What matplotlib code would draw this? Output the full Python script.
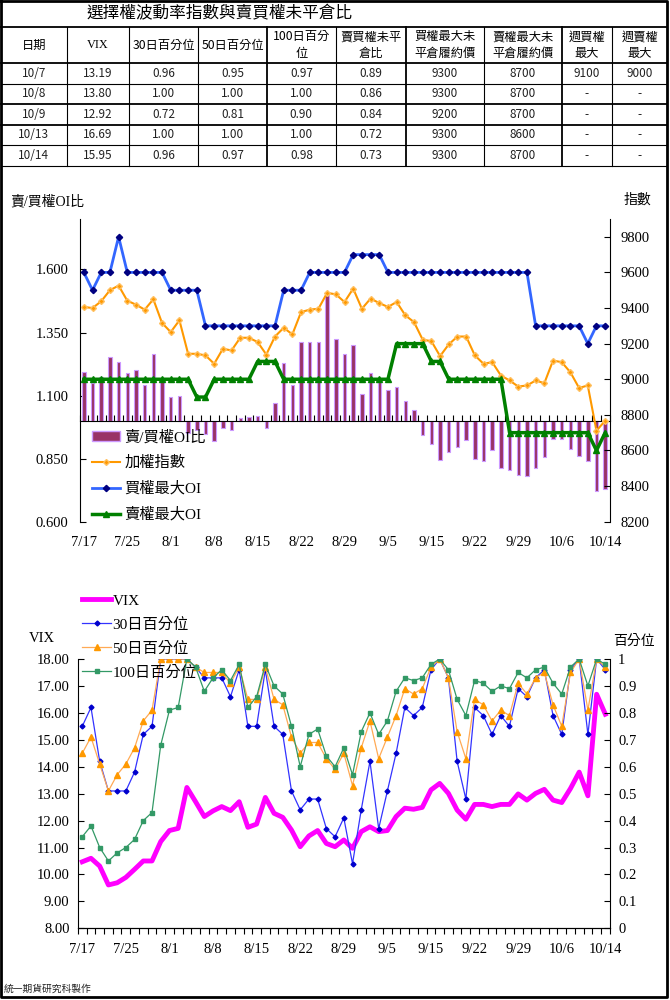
import numpy as np
import matplotlib
matplotlib.use('Agg')
import matplotlib.pyplot as plt
from matplotlib.lines import Line2D
from matplotlib.patches import Patch
from matplotlib.font_manager import FontProperties

CJK = 'Noto Sans CJK TC'
SERIF = ['Liberation Serif', CJK]
plt.rcParams['font.family'] = [CJK, 'DejaVu Sans']

# ---- data ----
dates = ['7/17', '7/18', '7/21', '7/22', '7/24', '7/25', '7/28', '7/29', '7/30', '7/31',
         '8/1', '8/4', '8/5', '8/6', '8/7', '8/8', '8/11', '8/12', '8/13', '8/14',
         '8/15', '8/18', '8/19', '8/20', '8/21', '8/22', '8/25', '8/26', '8/27', '8/28',
         '8/29', '9/1', '9/2', '9/3', '9/4', '9/5', '9/9', '9/10', '9/11', '9/12',
         '9/15', '9/16', '9/17', '9/18', '9/19', '9/22', '9/23', '9/24', '9/25', '9/26',
         '9/29', '9/30', '10/1', '10/2', '10/3', '10/6', '10/7', '10/8', '10/9', '10/13',
         '10/14']

# put/call OI ratio (bars, left axis)
pc_ratio = [1.194, 1.148, 1.174, 1.251, 1.233, 1.188, 1.201, 1.142, 1.263, 1.168,
            1.093, 1.099, 0.950, 0.963, 0.947, 0.920, 0.970, 0.963, 1.010, 1.014,
            1.019, 0.970, 1.069, 1.228, 1.142, 1.313, 1.313, 1.313, 1.498, 1.325,
            1.264, 1.300, 1.105, 1.190, 1.155, 1.122, 1.135, 1.078, 1.042, 0.943,
            0.908, 0.844, 0.877, 0.895, 0.924, 0.847, 0.840, 0.884, 0.811, 0.805,
            0.785, 0.781, 0.811, 0.858, 0.926, 0.926, 0.89, 0.86, 0.84, 0.72,
            0.73]
taiex = [9406, 9400, 9438, 9500, 9526, 9441, 9419, 9391, 9449, 9316,
         9265, 9331, 9143, 9143, 9134, 9087, 9171, 9162, 9233, 9233,
         9209, 9139, 9240, 9289, 9252, 9377, 9391, 9396, 9485, 9477,
         9434, 9509, 9396, 9453, 9428, 9406, 9434, 9359, 9321, 9222,
         9214, 9130, 9196, 9240, 9240, 9134, 9087, 9096, 9021, 8993,
         8959, 8965, 8993, 8978, 9105, 9096, 9039, 8951, 8965, 8711,
         8767]
call_max_oi = [9600, 9500, 9600, 9600, 9800, 9600, 9600, 9600, 9600, 9600,
               9500, 9500, 9500, 9500, 9300, 9300, 9300, 9300, 9300, 9300,
               9300, 9300, 9300, 9500, 9500, 9500, 9600, 9600, 9600, 9600,
               9600, 9700, 9700, 9700, 9700, 9600, 9600, 9600, 9600, 9600,
               9600, 9600, 9600, 9600, 9600, 9600, 9600, 9600, 9600, 9600,
               9600, 9600, 9300, 9300, 9300, 9300, 9300, 9300, 9200, 9300,
               9300]
put_max_oi = [9000, 9000, 9000, 9000, 9000, 9000, 9000, 9000, 9000, 9000,
              9000, 9000, 9000, 8900, 8900, 9000, 9000, 9000, 9000, 9000,
              9100, 9100, 9100, 9000, 9000, 9000, 9000, 9000, 9000, 9000,
              9000, 9000, 9000, 9000, 9000, 9000, 9200, 9200, 9200, 9200,
              9100, 9100, 9000, 9000, 9000, 9000, 9000, 9000, 9000, 8700,
              8700, 8700, 8700, 8700, 8700, 8700, 8700, 8700, 8700, 8600,
              8700]

vix = [10.47, 10.60, 10.31, 9.61, 9.69, 9.89, 10.19, 10.50, 10.50, 11.22,
       11.63, 11.71, 13.23, 12.70, 12.15, 12.36, 12.52, 12.37, 12.70, 11.75,
       11.87, 12.86, 12.27, 12.12, 11.65, 11.03, 11.43, 11.63, 11.15, 11.03,
       11.28, 10.97, 11.59, 11.77, 11.59, 11.63, 12.15, 12.46, 12.42, 12.49,
       13.14, 13.38, 13.01, 12.39, 12.05, 12.60, 12.60, 12.52, 12.60, 12.60,
       12.99, 12.76, 13.01, 13.16, 12.76, 12.67, 13.19, 13.80, 12.92, 16.69,
       15.95]
pct30 = [0.75, 0.82, 0.62, 0.51, 0.51, 0.51, 0.58, 0.72, 0.75, 1.00,
         1.00, 1.00, 1.00, 0.97, 0.93, 0.93, 0.93, 0.86, 0.96, 0.75,
         0.75, 0.96, 0.75, 0.72, 0.51, 0.44, 0.48, 0.48, 0.37, 0.34,
         0.41, 0.24, 0.44, 0.62, 0.37, 0.51, 0.65, 0.82, 0.79, 0.82,
         0.96, 1.00, 0.93, 0.62, 0.48, 0.82, 0.79, 0.72, 0.79, 0.75,
         0.89, 0.86, 0.93, 0.96, 0.79, 0.72, 0.96, 1.00, 0.72, 1.00,
         0.96]
pct50 = [0.65, 0.71, 0.61, 0.51, 0.57, 0.61, 0.67, 0.77, 0.81, 1.00,
         1.00, 1.00, 1.00, 0.97, 0.95, 0.95, 0.95, 0.91, 0.97, 0.85,
         0.85, 0.97, 0.85, 0.83, 0.71, 0.65, 0.69, 0.69, 0.63, 0.59,
         0.65, 0.53, 0.67, 0.77, 0.63, 0.71, 0.79, 0.89, 0.87, 0.89,
         0.97, 1.00, 0.93, 0.73, 0.63, 0.85, 0.83, 0.77, 0.81, 0.79,
         0.91, 0.87, 0.93, 0.95, 0.83, 0.75, 0.95, 1.00, 0.81, 1.00,
         0.97]
pct100 = [0.34, 0.38, 0.30, 0.25, 0.28, 0.30, 0.33, 0.40, 0.43, 0.68,
          0.81, 0.82, 1.00, 0.97, 0.88, 0.93, 0.96, 0.92, 0.98, 0.82,
          0.86, 0.98, 0.90, 0.87, 0.75, 0.60, 0.72, 0.74, 0.64, 0.60,
          0.67, 0.57, 0.73, 0.80, 0.72, 0.77, 0.88, 0.93, 0.92, 0.93,
          0.98, 1.00, 0.96, 0.85, 0.79, 0.92, 0.91, 0.88, 0.90, 0.89,
          0.95, 0.93, 0.96, 0.97, 0.91, 0.87, 0.97, 1.00, 0.90, 1.00,
          0.98]

# summary table
tbl_header = ['日期', 'VIX', '30日百分位', '50日百分位', '100日百分\n位', '賣買權未平\n倉比',
              '買權最大未\n平倉履約價', '賣權最大未\n平倉履約價', '週買權\n最大', '週賣權\n最大']
tbl_dates = ['10/7', '10/8', '10/9', '10/13', '10/14']
tbl_vix = [13.19, 13.80, 12.92, 16.69, 15.95]
tbl_p30 = [0.96, 1.00, 0.72, 1.00, 0.96]
tbl_p50 = [0.95, 1.00, 0.81, 1.00, 0.97]
tbl_p100 = [0.97, 1.00, 0.90, 1.00, 0.98]
tbl_pcr = [0.89, 0.86, 0.84, 0.72, 0.73]
tbl_call = [9300, 9300, 9200, 9300, 9300]
tbl_put = [8700, 8700, 8700, 8600, 8700]
tbl_wcall = ['9100', '-', '-', '-', '-']
tbl_wput = ['9000', '-', '-', '-', '-']

x = np.arange(len(dates))
W, H = 670, 1000

fig = plt.figure(figsize=(6.7, 10), dpi=100)
bg = fig.add_axes([0, 0, 1, 1])
bg.set_xlim(0, W)
bg.set_ylim(H, 0)
bg.axis('off')

# outer frame
bg.plot([1, 667, 667, 1, 1], [0.5, 0.5, 997, 997, 0.5], color='black', lw=2)

# ---- table ----
col_edges = [1, 66.7, 129.3, 198.3, 266.7, 336, 405.7, 484.3, 561.7, 612.3, 667]
row_edges = [27, 63.3, 83.5, 104, 124.5, 145, 165.7]
for k, yy in enumerate(row_edges):
    bg.plot([1, 667], [yy, yy], color='black', lw=1.3 if k in (0, 1, 3, 4) else 0.8)
for k, xx in enumerate(col_edges[1:-1]):
    bg.plot([xx, xx], [27, 165.7], color='black', lw=1.3 if k in (3, 5, 7) else 0.8)

bg.text(220, 14, '選擇權波動率指數與賣買權未平倉比', fontsize=12, ha='center', va='center')
for c, lab in enumerate(tbl_header):
    cx = (col_edges[c] + col_edges[c + 1]) / 2
    bg.text(cx, 45, lab, fontsize=8.8, ha='center', va='center', linespacing=1.35,
            family=SERIF if lab == 'VIX' else CJK)
rows = list(zip(tbl_dates, ['%.2f' % v for v in tbl_vix], ['%.2f' % v for v in tbl_p30],
                ['%.2f' % v for v in tbl_p50], ['%.2f' % v for v in tbl_p100],
                ['%.2f' % v for v in tbl_pcr], [str(v) for v in tbl_call],
                [str(v) for v in tbl_put], tbl_wcall, tbl_wput))
for r, row in enumerate(rows):
    cy = (row_edges[r + 2] + row_edges[r + 1]) / 2
    for c, val in enumerate(row):
        cx = (col_edges[c] + col_edges[c + 1]) / 2
        bg.text(cx, cy, val, fontsize=8.5, ha='center', va='center', color='#222222')

# ---- top chart: put/call ratio & max OI ----
ax1 = fig.add_axes([79.5 / W, 1 - 521.7 / H, 530 / W, (521.7 - 219) / H])
ax1.set_facecolor('none')
ax1.bar(x, np.array(pc_ratio) - 1.0, bottom=1.0, width=0.4, color='#993366',
        edgecolor='#cc99ff', lw=0.8, zorder=2)
ax1.set_xlim(-0.5, len(dates) - 0.5)
ax1.set_ylim(0.6, 1.8)
ax1.set_yticks([0.6, 0.85, 1.1, 1.35, 1.6])
ax1.set_yticklabels(['%.3f' % v for v in [0.6, 0.85, 1.1, 1.35, 1.6]], family=SERIF, fontsize=10.5)
ax1.spines['top'].set_visible(False)
ax1.spines['right'].set_visible(False)
ax1.spines['bottom'].set_position(('data', 1.0))
ax1.set_xticks(np.arange(-0.5, len(dates), 1))
ax1.tick_params(axis='x', direction='in', length=4, labelbottom=False, width=0.8)
ax1.tick_params(axis='y', direction='in', length=4, pad=8)
for i in range(0, len(dates), 5):
    ax1.text(i, -0.07, dates[i], transform=ax1.get_xaxis_transform(), ha='center',
             va='center', family=SERIF, fontsize=10.5)

ax1b = ax1.twinx()
ax1b.set_ylim(8200, 9900)
ax1b.set_yticks(np.arange(8200, 9801, 200))
ax1b.set_yticklabels([str(v) for v in range(8200, 9801, 200)], family=SERIF, fontsize=10.5)
ax1b.tick_params(axis='y', direction='in', length=4, pad=8)
for s in ('top', 'left', 'bottom'):
    ax1b.spines[s].set_visible(False)
ax1b.plot(x, taiex, color='#ff9900', lw=1.5, marker='D', ms=3, mfc='#ff9900', mec='#ffc060')
ax1b.plot(x, call_max_oi, color='#3366ff', lw=2, marker='D', ms=3.2, mfc='#000080', mec='#000080')
ax1b.plot(x, put_max_oi, color='#008000', lw=2.5, marker='^', ms=5, mfc='#008000', mec='#008000')

h1 = [Patch(facecolor='#993366', edgecolor='#cc99ff'),
      Line2D([], [], color='#ff9900', lw=1.5, marker='D', ms=3, mfc='#ff9900', mec='#ffc060'),
      Line2D([], [], color='#3366ff', lw=2, marker='D', ms=3.2, mfc='#000080', mec='#000080'),
      Line2D([], [], color='#008000', lw=2.5, marker='^', ms=5, mfc='#008000', mec='#008000')]
ax1b.legend(h1, ['賣/買權OI比', '加權指數', '買權最大OI', '賣權最大OI'],
            loc='upper left', bbox_to_anchor=(92 / W, 1 - 430 / H), bbox_transform=fig.transFigure,
            frameon=False, prop=FontProperties(family=SERIF, size=11), handlelength=1.8,
            handletextpad=0.3, labelspacing=0.75, borderpad=0, borderaxespad=0)

bg.text(10, 202, '賣/買權OI比', fontsize=10, ha='left', va='center', family=SERIF)
bg.text(637, 200, '指數', fontsize=10, ha='center', va='center')

# ---- bottom chart: VIX & percentiles ----
ax2 = fig.add_axes([77.9 / W, 1 - 928.3 / H, 531.8 / W, 269.3 / H])
ax2.set_facecolor('none')
ax2.plot(x, vix, color='#ff00ff', lw=3.5, zorder=3)
ax2.set_xlim(-0.5, len(dates) - 0.5)
ax2.set_ylim(8, 18)
ax2.set_yticks(np.arange(8, 18.1, 1))
ax2.set_yticklabels(['%.2f' % v for v in np.arange(8, 18.1, 1)], family=SERIF, fontsize=10.5)
ax2.spines['top'].set_visible(False)
ax2.spines['right'].set_visible(False)
ax2.set_xticks(np.arange(-0.5, len(dates), 1))
ax2.tick_params(axis='x', direction='out', length=4, labelbottom=False, width=0.8)
ax2.tick_params(axis='y', direction='in', length=4, pad=6)
for i in range(0, len(dates), 5):
    ax2.text(i, -0.08, dates[i], transform=ax2.get_xaxis_transform(), ha='center',
             va='center', family=SERIF, fontsize=10.5)

ax2b = ax2.twinx()
ax2b.set_ylim(0, 1)
ax2b.set_yticks(np.arange(0, 1.01, 0.1))
ax2b.set_yticklabels(['0'] + ['%.1f' % v for v in np.arange(0.1, 0.95, 0.1)] + ['1'],
                     family=SERIF, fontsize=10.5)
ax2b.tick_params(axis='y', direction='in', length=4, pad=6)
for s in ('top', 'left'):
    ax2b.spines[s].set_visible(False)
ax2b.plot(x, pct30, color='#3333ff', lw=0.9, marker='D', ms=2.5, mfc='#0000cc', mec='#0000cc')
ax2b.plot(x, pct50, color='#ffaa55', lw=0.9, marker='^', ms=3.8, mfc='#ff9900', mec='#ff9900')
ax2b.plot(x, pct100, color='#339966', lw=0.9, marker='s', ms=3.5, mfc='#339966', mec='#339966')

h2 = [Line2D([], [], color='#ff00ff', lw=3.5),
      Line2D([], [], color='#3333ff', lw=0.9, marker='D', ms=2.5, mfc='#0000cc', mec='#0000cc'),
      Line2D([], [], color='#ffaa55', lw=0.9, marker='^', ms=3.8, mfc='#ff9900', mec='#ff9900'),
      Line2D([], [], color='#339966', lw=0.9, marker='s', ms=3.5, mfc='#339966', mec='#339966')]
ax2b.legend(h2, ['VIX', '30日百分位', '50日百分位', '100日百分位'],
            loc='upper left', bbox_to_anchor=(82 / W, 1 - 594 / H), bbox_transform=fig.transFigure,
            frameon=False, prop=FontProperties(family=SERIF, size=11), handlelength=1.9,
            handletextpad=0.1, labelspacing=0.64, borderpad=0, borderaxespad=0)

bg.text(42, 638, 'VIX', fontsize=10.5, ha='center', va='center', family=SERIF)
bg.text(634, 641, '百分位', fontsize=10, ha='center', va='center')

bg.text(4, 989, '統一期貨研究科製作', fontsize=7, ha='left', va='center', color='#222222')

fig.savefig('out.png', dpi=100)
